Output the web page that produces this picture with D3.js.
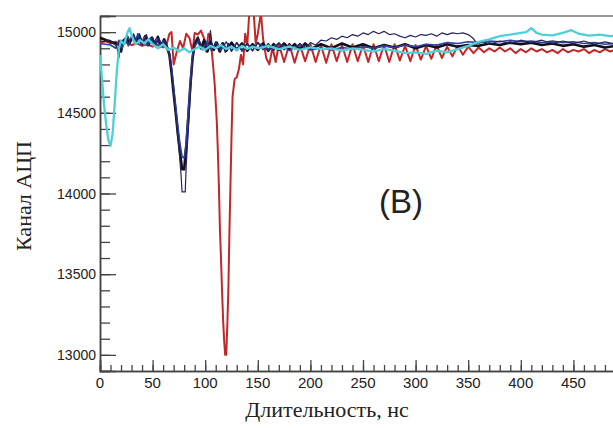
<!DOCTYPE html>
<html>
<head>
  <meta charset="utf-8">
  <title>adc</title>
  <style>
    body{ margin:0; background:#fff; }
    .tick-label{ font-family:"Liberation Sans", Arial, sans-serif; fill:#222; }
    .title{ font-family:"Liberation Serif", "Times New Roman", serif; fill:#222; }
  </style>
  <script src="https://d3js.org/d3.v7.min.js"></script>
</head>
<body>
  <script>
    // traces: [time ns, ADC channel]
    var cyanTrace = [[0,14858],[2,14700],[4,14540],[6,14420],[8,14330],[10,14295],[12,14370],[14,14560],[16,14760],[18,14900],[20,14945],[23,14925],[26,14995],[28,15025],[31,14965],[34,14925],[38,14950],[42,14930],[46,14955],[50,14925],[55,14900],[60,14925],[65,14890],[70,14905],[75,14880],[80,14900],[85,14875],[90,14895],[95,14910],[100,14890],[105,14915],[110,14900],[115,14920],[120,14895],[125,14910],[130,14890],[135,14915],[140,14895],[145,14910],[150,14900],[160,14915],[170,14895],[180,14910],[190,14890],[200,14905],[210,14895],[220,14900],[230,14885],[240,14900],[250,14890],[260,14880],[270,14895],[280,14885],[290,14870],[300,14875],[310,14865],[320,14885],[330,14875],[340,14895],[350,14915],[360,14940],[370,14955],[380,14975],[390,14985],[400,14995],[405,15000],[410,15025],[415,14995],[420,14985],[430,14980],[440,14995],[448,15012],[455,14990],[465,14978],[475,14985],[485,14975],[495,14980]];

    var redTrace = [[0,14935],[5,14945],[10,14930],[15,14940],[20,14925],[25,14935],[30,14920],[35,14930],[40,14915],[45,14925],[50,14910],[55,14920],[60,14905],[63,14915],[66,14990],[68,15000],[70,14800],[73,14880],[76,14945],[79,14900],[82,14990],[85,14965],[88,14880],[90,14995],[93,14985],[96,15010],[99,14960],[101,14880],[103,14990],[105,14975],[107,14830],[109,14680],[111,14450],[112,14270],[113,14050],[114,13780],[115,13600],[116,13400],[117,13220],[118,13090],[119,13000],[120,13000],[121,13180],[122,13400],[123,13750],[124,14050],[125,14350],[126,14600],[128,14710],[130,14720],[132,14770],[134,14860],[136,14800],[138,14990],[140,14920],[142,15130],[146,15130],[148,14930],[150,14990],[153,15120],[155,14960],[158,14840],[161,14800],[164,14905],[167,14815],[170,14925],[175,14815],[180,14925],[185,14810],[190,14920],[195,14820],[200,14925],[205,14815],[210,14920],[215,14810],[220,14925],[225,14820],[230,14920],[235,14815],[240,14925],[245,14820],[250,14920],[255,14815],[260,14925],[265,14820],[270,14920],[275,14815],[280,14925],[285,14825],[290,14915],[295,14820],[300,14920],[305,14830],[310,14915],[315,14835],[320,14920],[325,14840],[330,14910],[335,14850],[340,14915],[345,14860],[350,14910],[355,14870],[360,14905],[365,14875],[370,14900],[375,14880],[380,14905],[385,14880],[390,14900],[395,14870],[400,14895],[405,14875],[410,14900],[415,14880],[420,14895],[425,14875],[430,14890],[435,14870],[440,14895],[445,14875],[450,14890],[455,14880],[460,14895],[465,14870],[470,14890],[475,14875],[480,14895],[485,14880],[490,14890],[495,14880]];

    var blackTrace = [[0,14965],[3,14958],[6,14950],[9,14945],[12,14935],[15,14930],[18,14925],[20,14880],[22,14945],[25,14965],[28,14930],[31,14975],[34,14935],[37,14985],[40,14925],[43,14975],[46,14920],[49,14965],[52,14930],[55,14970],[58,14915],[61,14955],[64,14900],[66,14860],[68,14750],[70,14620],[72,14500],[74,14370],[76,14260],[78,14150],[80,14150],[82,14290],[84,14480],[86,14680],[88,14840],[90,14925],[93,14965],[96,14900],[99,14950],[102,14880],[105,14940],[108,14890],[111,14935],[114,14880],[117,14930],[120,14885],[125,14935],[130,14890],[135,14930],[140,14885],[145,14925],[150,14890],[155,14930],[160,14885],[165,14925],[170,14890],[175,14930],[180,14895],[185,14925],[190,14890],[195,14930],[200,14895],[210,14925],[220,14900],[230,14930],[240,14905],[250,14925],[260,14900],[270,14920],[280,14905],[290,14925],[300,14900],[310,14920],[320,14905],[330,14925],[340,14910],[350,14920],[360,14915],[370,14930],[380,14920],[390,14935],[400,14925],[410,14935],[420,14920],[430,14930],[440,14915],[450,14925],[460,14910],[470,14920],[480,14905],[490,14915],[495,14910]];

    var navyTrace = [[0,14945],[4,14940],[8,14950],[12,14935],[16,14910],[18,14840],[20,14950],[23,14930],[26,14980],[29,14940],[32,14990],[35,14935],[38,14980],[41,14925],[44,14985],[47,14930],[50,14970],[53,14920],[56,14960],[59,14910],[62,14950],[65,14890],[67,14820],[69,14700],[71,14560],[73,14420],[75,14280],[77,14120],[78,14010],[81,14010],[82,14180],[84,14400],[86,14630],[88,14820],[90,14940],[93,14970],[97,14900],[100,14930],[103,14900],[105,15010],[107,14890],[110,14940],[113,14880],[116,14935],[119,14875],[122,14930],[125,14880],[130,14935],[135,14880],[140,14930],[145,14885],[150,14935],[155,14890],[160,14930],[165,14885],[170,14935],[175,14890],[180,14930],[185,14895],[190,14930],[195,14900],[200,14935],[205,14920],[210,14950],[215,14945],[220,14965],[225,14955],[230,14975],[235,14965],[240,14985],[245,14975],[250,14995],[255,14985],[260,15005],[265,14990],[270,15005],[275,14985],[280,14990],[285,14975],[290,14965],[295,14980],[300,14970],[305,14985],[310,14980],[315,14990],[320,14975],[325,14995],[330,14985],[335,14995],[340,14990],[345,14995],[350,14985],[355,14960],[358,14930],[365,14940],[370,14925],[380,14945],[390,14930],[400,14950],[410,14935],[420,14950],[430,14930],[440,14945],[450,14930],[460,14945],[470,14925],[480,14940],[490,14925],[495,14935]];

    var blueTrace = [[0,14930],[5,14925],[10,14920],[15,14900],[18,14950],[21,14900],[24,14960],[27,14915],[30,14975],[33,14930],[36,14990],[39,14920],[42,14970],[45,14915],[48,14965],[51,14925],[54,14960],[57,14905],[60,14945],[63,14900],[66,14870],[68,14780],[70,14660],[72,14540],[74,14420],[76,14310],[78,14230],[80,14220],[82,14320],[84,14520],[86,14700],[88,14860],[90,14910],[94,14950],[98,14890],[102,14945],[106,14885],[110,14935],[115,14890],[120,14940],[125,14885],[130,14935],[135,14890],[140,14930],[145,14885],[150,14935],[160,14890],[170,14930],[180,14885],[190,14925],[200,14890],[210,14900],[220,14890],[230,14905],[240,14895],[250,14910],[260,14900],[270,14915],[280,14905],[290,14920],[300,14910],[310,14925],[320,14920],[330,14935],[340,14930],[350,14940],[360,14935],[370,14945],[380,14940],[390,14950],[400,14940],[410,14945],[420,14935],[430,14945],[440,14935],[450,14940],[460,14930],[470,14935],[480,14925],[490,14930],[495,14925]];

    var xMajor = [0,50,100,150,200,250,300,350,400,450,500];
    var yMajor = [13000,13500,14000,14500,15000];

    var width = 613, height = 428;
    var mLeft = 100, mTop = 16, mBottom = 371, mRight = 626;

    var svg = d3.select('body').append('svg')
      .attr('width', width).attr('height', height);

    var x = d3.scaleLinear().domain([0, 500]).range([mLeft, mRight]);
    var y = d3.scaleLinear().domain([12900, 15100]).range([mBottom, mTop]);

    svg.append('clipPath').attr('id', 'plot')
      .append('rect').attr('x', mLeft).attr('y', mTop)
      .attr('width', mRight - mLeft).attr('height', mBottom - mTop);

    // frame
    svg.append('line').attr('x1', mLeft).attr('x2', width).attr('y1', mTop).attr('y2', mTop)
      .attr('stroke', '#777').attr('stroke-width', 1.5);

    // x axis, ticks pointing up into the plot
    var xAxis = d3.axisTop(x).tickValues(xMajor).tickSize(11).tickFormat('');
    var xMinor = d3.axisTop(x).ticks(50).tickSize(6).tickFormat('');
    svg.append('g').attr('transform', 'translate(0,' + mBottom + ')').call(xMinor);
    svg.append('g').attr('transform', 'translate(0,' + mBottom + ')').call(xAxis);
    svg.selectAll('.x-lab').data(xMajor.filter(d => d < 500)).enter().append('text')
      .attr('class', 'tick-label')
      .attr('x', d => x(d)).attr('y', 388)
      .attr('text-anchor', 'middle').attr('font-size', 15)
      .text(d => d);

    // y axis, ticks pointing right into the plot
    var yAxis = d3.axisRight(y).tickValues(yMajor).tickSize(16).tickFormat('');
    var yMinor = d3.axisRight(y).ticks(22).tickSize(10).tickFormat('');
    svg.append('g').attr('transform', 'translate(' + mLeft + ',0)').call(yMinor);
    svg.append('g').attr('transform', 'translate(' + mLeft + ',0)').call(yAxis);
    svg.selectAll('.y-lab').data(yMajor).enter().append('text')
      .attr('class', 'tick-label')
      .attr('x', 96).attr('y', d => y(d) + 5)
      .attr('text-anchor', 'end').attr('font-size', 14)
      .text(d => d);

    svg.selectAll('.domain').attr('stroke', '#444').attr('stroke-width', 1.5);
    svg.selectAll('.tick line').attr('stroke', '#444').attr('stroke-width', 1.3);

    var line = d3.line().x(d => x(d[0])).y(d => y(d[1]));
    var traces = [
      {data: redTrace, color: '#c0282a', w: 2},
      {data: blackTrace, color: '#101018', w: 2.6},
      {data: blueTrace, color: '#2f40a0', w: 1.6},
      {data: navyTrace, color: '#25255e', w: 1.2},
      {data: cyanTrace, color: '#4fd0d8', w: 2.3}
    ];
    svg.append('g').attr('clip-path', 'url(#plot)')
      .selectAll('path').data(traces).enter().append('path')
      .attr('d', d => line(d.data))
      .attr('fill', 'none')
      .attr('stroke', d => d.color)
      .attr('stroke-width', d => d.w)
      .attr('stroke-linejoin', 'round');

    // titles
    svg.append('text').attr('class', 'title')
      .attr('x', 327).attr('y', 417).attr('text-anchor', 'middle')
      .attr('font-size', 22).text('Длительность, нс');
    svg.append('text').attr('class', 'title')
      .attr('transform', 'translate(31,196) rotate(-90)').attr('text-anchor', 'middle')
      .attr('font-size', 22).text('Канал АЦП');

    svg.append('text')
      .attr('x', 401).attr('y', 213).attr('text-anchor', 'middle')
      .attr('font-family', '"Liberation Sans", Arial, sans-serif')
      .attr('font-size', 33).attr('fill', '#222')
      .text('(В)');
  </script>
</body>
</html>
